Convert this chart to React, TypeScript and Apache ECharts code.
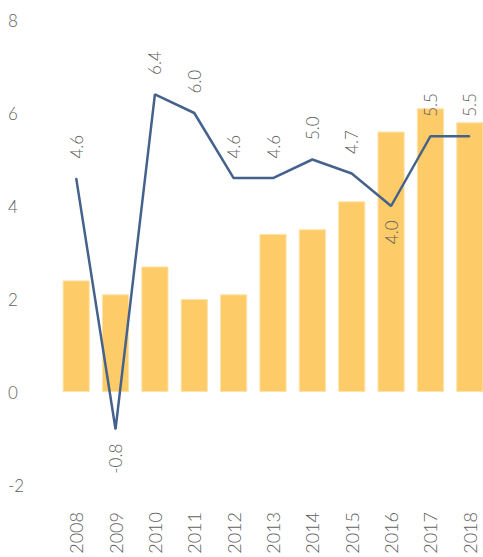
import React, { useEffect, useRef } from "react";
import * as echarts from "echarts";

const years = ["2008", "2009", "2010", "2011", "2012", "2013", "2014", "2015", "2016", "2017", "2018"];
const barValues = [2.4, 2.1, 2.7, 2.0, 2.1, 3.4, 3.5, 4.1, 5.6, 6.1, 5.8];
const lineValues = [4.6, -0.8, 6.4, 6.0, 4.6, 4.6, 5.0, 4.7, 4.0, 5.5, 5.5];
const labelsBelow = ["2009", "2016"];

const FONT = "Lato";
const TEXT = "#5f5f5f";

export default function App() {
  const ref = useRef<HTMLDivElement>(null);
  useEffect(() => {
    const chart = echarts.init(ref.current!, null, { renderer: "svg" });
    chart.setOption({
      animation: false,
      grid: { left: 56.5, top: 20, width: 433, height: 465, outerBoundsMode: "none", containLabel: false },
      xAxis: {
        type: "category",
        data: years,
        axisLine: { show: false },
        axisTick: { show: false },
        axisLabel: {
          rotate: 90,
          margin: 27,
          fontFamily: FONT,
          fontWeight: 300,
          fontSize: 18,
          color: TEXT,
        },
      },
      yAxis: {
        type: "value",
        min: -2,
        max: 8,
        interval: 2,
        splitLine: { show: false },
        axisLine: { show: false },
        axisTick: { show: false },
        axisLabel: {
          align: "left",
          margin: 48.5,
          fontFamily: FONT,
          fontWeight: 300,
          fontSize: 17,
          color: TEXT,
        },
      },
      series: [
        {
          type: "bar",
          data: barValues,
          barWidth: "69%",
          itemStyle: { color: "#FECB69", borderColor: "#FFE2A6", borderWidth: 1 },
        },
        {
          type: "line",
          data: lineValues.map((v, i) => {
            const below = labelsBelow.includes(years[i]);
            return {
              value: v,
              label: below
                ? { position: "bottom", align: "right", distance: 14 }
                : { position: "top", align: "left", distance: 19 },
            };
          }),
          symbol: "circle",
          symbolSize: 1,
          lineStyle: { color: "#44628C", width: 2.5 },
          itemStyle: { color: "#44628C" },
          label: {
            show: true,
            rotate: 90,
            verticalAlign: "middle",
            formatter: (p: any) => Number(p.value).toFixed(1),
            fontFamily: FONT,
            fontWeight: 300,
            fontSize: 17,
            color: TEXT,
          },
        },
      ],
    });
    return () => chart.dispose();
  }, []);
  return (
    <div
      ref={ref}
      style={{ position: "absolute", left: 0, top: 0, width: 483, height: 557 }}
    />
  );
}
